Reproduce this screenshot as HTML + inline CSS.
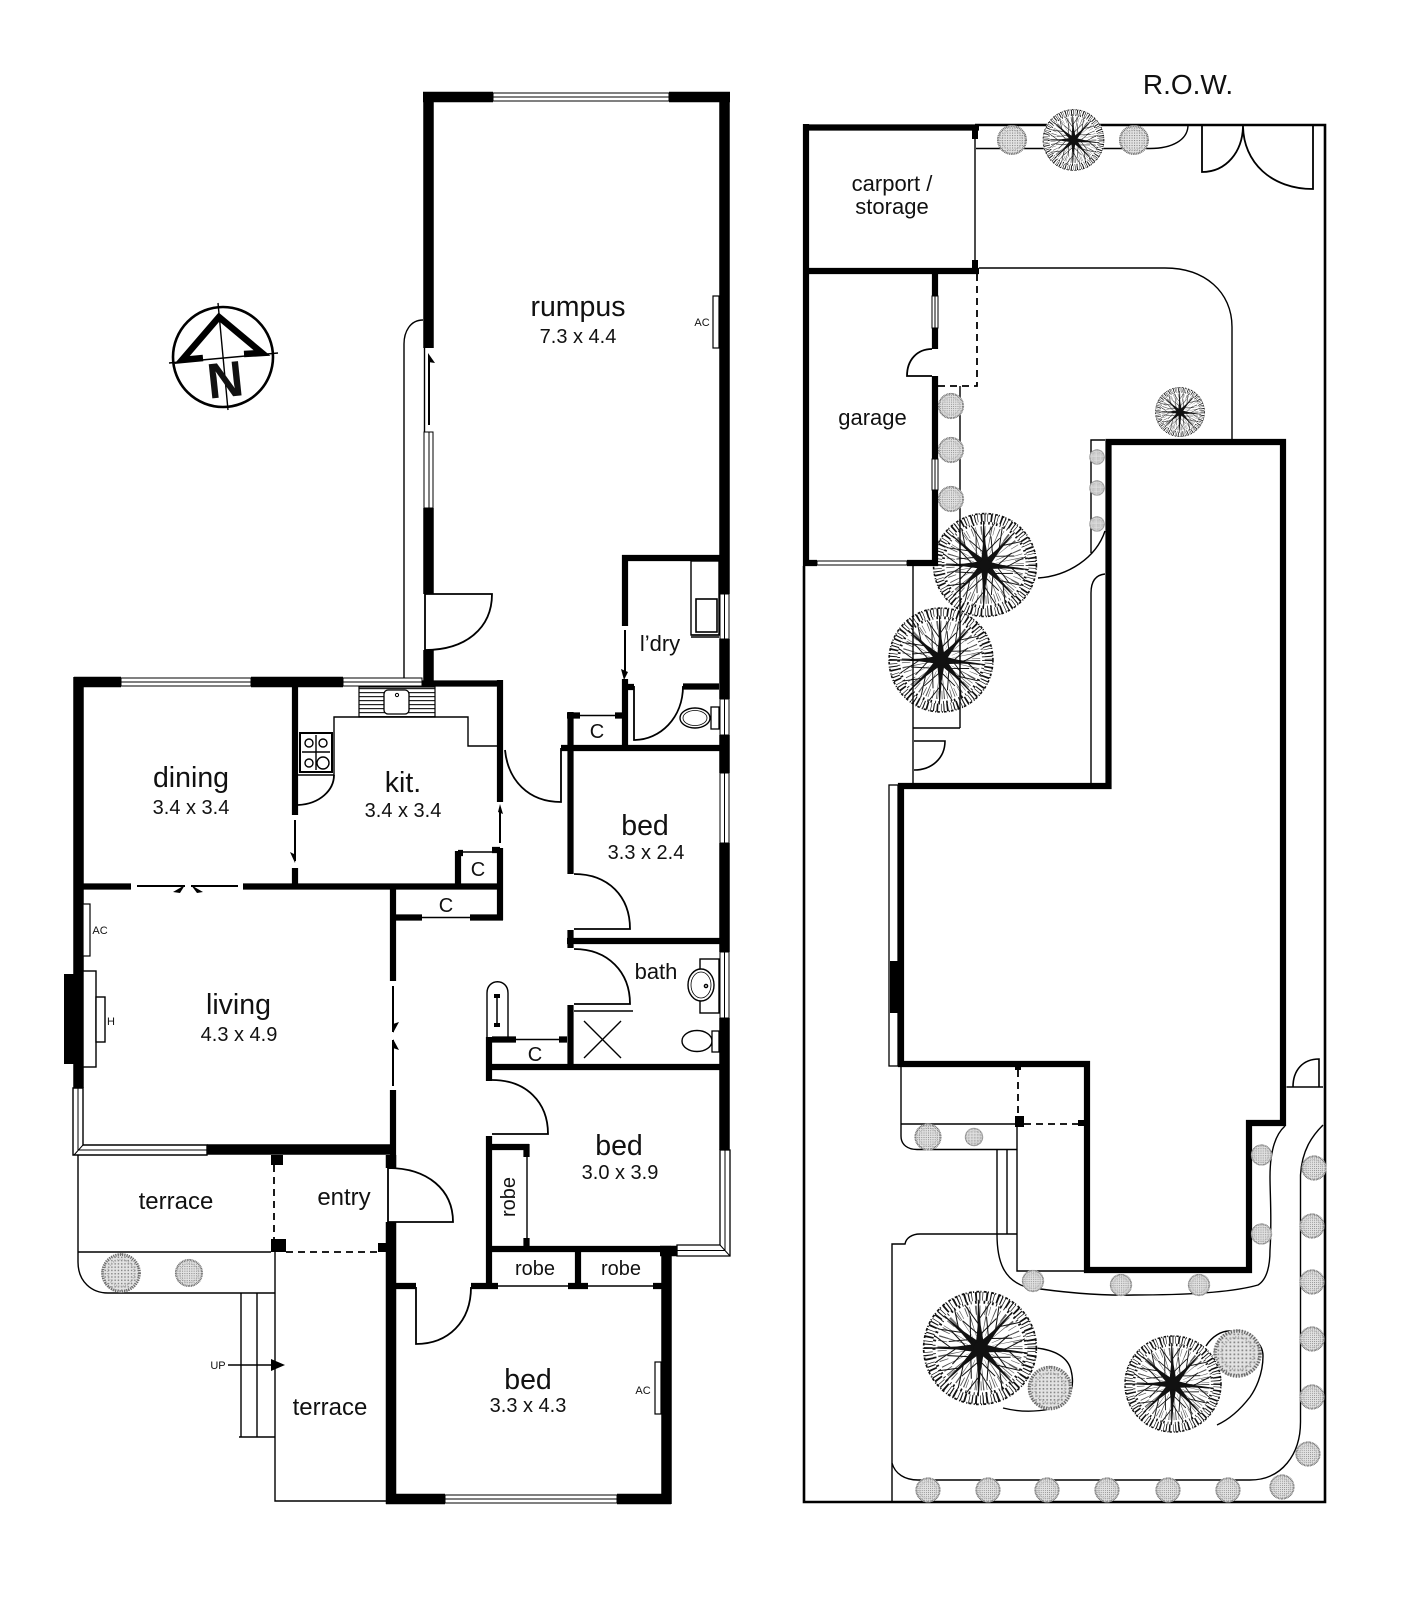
<!DOCTYPE html>
<html><head><meta charset="utf-8"><style>
html,body{margin:0;padding:0;background:#fff}
svg{display:block}
text{font-family:"Liberation Sans",Arial,sans-serif;fill:#111;text-anchor:middle}
.t28{font-size:28.5px}.t20{font-size:20px}.t24{font-size:24px}.t22{font-size:22px}.t11{font-size:11px}
.n{fill:none;stroke:#000;stroke-width:1.4}
.m{fill:none;stroke:#000;stroke-width:2}
.d{fill:none;stroke:#000;stroke-width:1.8;stroke-dasharray:7 5}
.b{fill:#000}
.win{fill:#fff;stroke:#000;stroke-width:1}
.wl{fill:none;stroke:#000}
</style></head><body>
<svg width="1411" height="1600" viewBox="0 0 1411 1600" xmlns="http://www.w3.org/2000/svg">
<defs>
<pattern id="hatch" width="4" height="4" patternUnits="userSpaceOnUse"><rect width="4" height="4" fill="#fff"/><rect width="4" height="1.2" fill="#222"/></pattern>
<pattern id="stip" width="1.6" height="1.6" patternUnits="userSpaceOnUse"><rect width="1.6" height="1.6" fill="#e2e2e2"/><rect width=".7" height=".7" fill="#888"/></pattern>
<g id="sh">
<circle r="9.6" fill="url(#stip)"/>
<circle r="9" fill="none" stroke="#666" stroke-width="1.4" stroke-dasharray=".5 .6"/>
<circle r="6.5" fill="none" stroke="#aaa" stroke-width=".9" stroke-dasharray=".4 .7"/>
</g>
<g id="spk">
<path d="M0,-4 L20,-1.3 L42,-.4 L42,.4 L20,1.3 L0,4Z" fill="#111"/>
<path d="M20,0 L38,-12 M25,0 L40,11 M12,1 L25,15 M12,-1 L24,-14" fill="none" stroke="#111" stroke-width=".9"/>
</g>
<g id="tr">
<circle r="50" fill="#fff"/>
<circle r="24" fill="none" stroke="#555" stroke-width="26" stroke-dasharray=".7 4.5 .5 6"/>
<circle r="33" fill="none" stroke="#555" stroke-width="8" stroke-dasharray=".7 3.2 .5 4"/>
<circle r="45" fill="none" stroke="#111" stroke-width="7.5" stroke-dasharray="1 1.8 .6 2.6 1.6 2"/>
<circle r="49" fill="none" stroke="#111" stroke-width="1.5" stroke-dasharray="2.5 1 1 2"/>
<circle r="40" fill="none" stroke="#111" stroke-width="2.6" stroke-dasharray=".8 3 1.5 2.2"/>
<use href="#spk" transform="rotate(6)"/><use href="#spk" transform="rotate(47)"/><use href="#spk" transform="rotate(92)"/><use href="#spk" transform="rotate(136)"/>
<use href="#spk" transform="rotate(180)"/><use href="#spk" transform="rotate(222)"/><use href="#spk" transform="rotate(268)"/><use href="#spk" transform="rotate(312)"/>
<circle r="5.5" fill="#111"/>
</g>
</defs>
<rect width="1411" height="1600" fill="#fff"/>

<!-- compass -->
<circle cx="223" cy="357" r="50" fill="none" stroke="#000" stroke-width="2.6"/>
<path d="M218,303 L228,410 M169,363 L278,353" class="n"/>
<path d="M203,358 L182,360 L219,317 L262,353 L244,354" fill="none" stroke="#000" stroke-width="6.5"/>
<text x="225" y="397" transform="rotate(-6 225 378)" style="font-size:50px;font-weight:700">N</text>

<!-- terrace / landscaping left -->
<path class="n" d="M423,320 C410,320 404,332 404,344 V679"/>
<path class="n" d="M78,1155 V1262 C78,1282 92,1293 108,1293 H275 M78,1252 H271 M275,1252 V1501 H386"/>
<path class="n" d="M241,1293 V1437 M257,1293 V1437 M239,1437 H275"/>
<path class="d" d="M274,1165 V1239 M286,1252 H378"/>
<use href="#sh" transform="translate(121,1273) scale(2.05)"/>
<use href="#sh" transform="translate(189,1273) scale(1.45)"/>

<!-- heavy walls -->
<g class="wl" stroke-width="10.5">
<path d="M423,97 H493 M669,97 H730 M428.5,92 V348 M428.5,508 V594 M428.5,650 V684 M724.5,92 V594 M724.5,639 V699 M724.5,735 V773 M724.5,843 V952 M724.5,1018 V1150"/>
<path d="M74,682 H121 M251,682 H343 M78.5,677 V1088"/>
<path d="M391,1155 V1168 M391,1222 V1504 M386,1499 H445 M617,1499 H671 M666.5,1246 V1504 M207,1149.5 H396"/>
<path d="M660,1251 H677"/>
</g>
<g class="wl" stroke-width="6.2">
<path d="M422,683.5 H503 M500,680 V802 M500,848 V920"/>
<path d="M295,687 V815 M295,868 V884 M83,886.5 H131 M243,886.5 H503"/>
<path d="M393,884 V981 M393,1090 V1167 M396,917.5 H422 M470,917.5 H503"/>
<path d="M458,851 V884 M458,853 H463 M492,850 H500"/>
<path d="M622,558 H722 M625,555 V626 M625,679 V748 M628,687 H634 M683,686.5 H719"/>
<path d="M570.5,712 V745 M567,715.5 H580 M615,715.5 H625"/>
<path d="M561,748 H722 M570.5,745 V874 M570.5,930 V948 M567,941 H722 M570.5,1005 V1070"/>
<path d="M486,1067 H722 M489,1037 V1081 M489,1136 V1287 M492,1147 H529 M526.5,1144 V1157 M526.5,1238 V1246"/>
<path d="M492,1039.5 H516 M559,1039.5 H567"/>
<path d="M487,1249 H671 M578,1252 V1285 M396,1286 H416 M471,1286 H498 M568,1286 H588 M653,1286 H662"/>
</g>
<!-- pillars, chimney -->
<rect class="b" x="271" y="1155" width="12" height="10"/>
<rect class="b" x="271" y="1239" width="15" height="13"/>
<rect class="b" x="378" y="1243" width="8" height="9"/>
<rect class="b" x="64" y="974" width="19" height="90"/>

<!-- windows -->
<g class="win">
<rect x="493" y="93" width="176" height="8"/><path d="M493,97 H669"/>
<rect x="424" y="432" width="9" height="76"/><path d="M429,432 V508"/>
<rect x="720" y="594" width="9" height="45"/><path d="M724.5,594 V639"/>
<rect x="720" y="699" width="9" height="36"/><path d="M724.5,699 V735"/>
<rect x="720" y="773" width="9" height="70"/><path d="M724.5,773 V843"/>
<rect x="720" y="952" width="9" height="66"/><path d="M724.5,952 V1018"/>
<path d="M720,1150 V1245 H677 V1256 H730 V1150Z" stroke-width="1.3"/><path d="M725,1150 V1250.5 H677 M720,1245 L730,1256" fill="none"/>
<rect x="121" y="678" width="130" height="8"/><path d="M121,682 H251"/>
<rect x="343" y="678" width="79" height="8"/><path d="M343,682 H422"/>
<path d="M73,1088 V1155 H207 V1145 H83 V1088Z" stroke-width="1.4"/><path d="M78,1088 V1150 H207 M83,1145 L74,1155" fill="none"/>
<rect x="445" y="1495" width="172" height="8"/><path d="M445,1499 H617"/>
</g>

<!-- thin partition lines -->
<path class="n" d="M580,715.5 H615 M463,852 H492 M422,917.5 H470 M516,1039.5 H559 M527,1157 V1238 M498,1286 H568 M588,1286 H653 M424.5,348 V432"/>
<path class="m" d="M137,886 H185 M191,886 H238 M393,986 V1032 M393,1040 V1086 M500,808 V843 M295,820 V861 M625,630 V676 M429,358 V425"/>
<g class="b">
<path d="M173,892 L185,885 L180,893Z M203,892 L191,885 L197,893Z"/>
<path d="M393,1033 L399,1022 L393,1024Z M393,1039 L399,1050 L393,1048Z"/>
<path d="M500,804 L503,814 L498,812Z M295,863 L290,852 L296,855Z M624,680 L621,669 L628,672Z M428,353 L435,363 L428,362Z"/>
</g>

<!-- doors -->
<g class="m" style="stroke-width:1.8">
<path d="M425,650 V594 H492 C492,628 466,650 425,650"/>
<path d="M634,686 V740 C660,740 683,718 683,686"/>
<path d="M505,750 C508,780 528,802 561,802 V748"/>
<path d="M574,874 C608,874 630,896 630,929 H574"/>
<path d="M574,949 C608,949 630,972 630,1004 H574"/>
<path d="M492,1080 C526,1080 548,1102 548,1134 H492"/>
<path d="M388,1168 V1222 H453 C453,1190 428,1168 388,1168"/>
<path d="M416,1287 V1344 C448,1344 471,1322 471,1287"/>
<path d="M334,775 C334,790 320,804 298,805"/>
</g>

<!-- kitchen -->
<path class="n" d="M298,775 H334 V717 H468 V746 H497"/>
<rect x="359" y="687" width="76" height="30" fill="url(#hatch)" stroke="#000" stroke-width="1.2"/>
<rect x="384" y="690" width="25" height="24" rx="4" fill="#fff" stroke="#000" stroke-width="1.3"/>
<circle cx="397" cy="695" r="1.6" fill="none" stroke="#000"/>
<rect x="300" y="733" width="32" height="39" fill="#fff" stroke="#000" stroke-width="2"/>
<path class="n" d="M316,735 V770 M302,752 H330"/>
<g class="n" fill="#fff"><circle cx="309" cy="743" r="4"/><circle cx="323" cy="743" r="4"/><circle cx="309" cy="763" r="4"/><circle cx="323" cy="763" r="6"/></g>

<!-- laundry / toilets -->
<rect x="691" y="561" width="28" height="74" fill="none" stroke="#000" stroke-width="1.4"/>
<rect x="696" y="599" width="21" height="33" fill="none" stroke="#000" stroke-width="1.6"/>
<path class="n" d="M691,635 H719 M691,637 H719"/>
<ellipse cx="695" cy="718" rx="15" ry="10" class="n"/><ellipse cx="695" cy="718" rx="12" ry="7.5" class="n" style="stroke-width:.8"/>
<rect x="711" y="707" width="8" height="22" fill="#fff" stroke="#000" stroke-width="1.3"/>
<rect x="700" y="959" width="19" height="54" fill="#fff" stroke="#000" stroke-width="1.4"/>
<ellipse cx="701" cy="985" rx="13" ry="16" fill="#fff" stroke="#000" stroke-width="1.4"/><ellipse cx="701" cy="985" rx="10" ry="13" class="n" style="stroke-width:.8"/><circle cx="706" cy="986" r="1.6" class="n"/>
<ellipse cx="697" cy="1041" rx="15" ry="10.5" fill="#fff" stroke="#000" stroke-width="1.4"/>
<rect x="712" y="1031" width="7" height="21" fill="#fff" stroke="#000" stroke-width="1.3"/>
<path class="n" d="M574,1011 H633 M584,1021 L621,1058 M621,1021 L584,1058"/>
<path class="n" d="M487,1037 V993 C487,978 508,978 508,993 V1037"/>
<path d="M497,996 V1025" stroke="#000" stroke-width="1.5"/><rect class="b" x="494" y="994" width="6" height="4"/><rect class="b" x="494" y="1023" width="6" height="4"/>

<!-- AC and fireplace -->
<rect x="713" y="296" width="6" height="52" fill="#fff" stroke="#000" stroke-width="1.2"/>
<rect x="83" y="904" width="7" height="52" fill="#fff" stroke="#000" stroke-width="1.2"/>
<rect x="83" y="971" width="13" height="96" fill="#fff" stroke="#000" stroke-width="1.4"/>
<rect x="96" y="997" width="9" height="45" fill="#fff" stroke="#000" stroke-width="1.4"/>
<rect x="655" y="1362" width="6" height="52" fill="#fff" stroke="#000" stroke-width="1.2"/>
<!-- UP arrow -->
<path d="M228,1365 H276" stroke="#000" stroke-width="1.6"/><path class="b" d="M271,1359 L285,1365 L271,1371Z"/>

<!-- left labels -->
<text class="t28" x="578" y="316">rumpus</text><text class="t20" x="578" y="343">7.3 x 4.4</text>
<text class="t22" x="660" y="651">l’dry</text>
<text class="t28" x="191" y="787">dining</text><text class="t20" x="191" y="814">3.4 x 3.4</text>
<text class="t28" x="403" y="792">kit.</text><text class="t20" x="403" y="817">3.4 x 3.4</text>
<text class="t28" x="645" y="835">bed</text><text class="t20" x="646" y="859">3.3 x 2.4</text>
<text class="t28" x="238.5" y="1014">living</text><text class="t20" x="239" y="1041">4.3 x 4.9</text>
<text class="t28" x="619" y="1155">bed</text><text class="t20" x="620" y="1179">3.0 x 3.9</text>
<text class="t28" x="528" y="1389">bed</text><text class="t20" x="528" y="1412">3.3 x 4.3</text>
<text class="t22" x="656" y="979">bath</text>
<text class="t24" x="176" y="1209">terrace</text><text class="t24" x="344" y="1205">entry</text><text class="t24" x="330" y="1415">terrace</text>
<text class="t20" x="597" y="738">C</text><text class="t20" x="478" y="876">C</text><text class="t20" x="446" y="912">C</text><text class="t20" x="535" y="1061">C</text>
<text class="t20" x="535" y="1275">robe</text><text class="t20" x="621" y="1275">robe</text>
<text class="t20" x="0" y="0" transform="translate(515,1197) rotate(-90)">robe</text>
<text class="t11" x="702" y="326">AC</text><text class="t11" x="100" y="934">AC</text><text class="t11" x="643" y="1394">AC</text><text class="t11" x="111" y="1025">H</text><text class="t11" x="218" y="1369">UP</text>

<!-- SITE PLAN -->
<!-- big trees first so lines and walls sit over them -->
<use href="#tr" transform="translate(941,660) scale(1.06)"/>
<use href="#tr" transform="translate(985,565) scale(1.05)"/>
<path class="m" style="stroke-width:2.6" d="M804,566 V1502 H1325 V125 H975"/>
<path class="n" d="M976,148.5 H1150 C1172,148.5 1188,140 1188,125"/>
<path class="n" d="M975,131 V268 M979,268 H1165 C1205,268 1232,292 1232,327 V439"/>
<path style="fill:none;stroke:#000;stroke-width:1.8" d="M1202,125 V172 C1226,172 1243,152 1243,125 C1243,163 1272,189 1313,189 V125"/>
<path class="n" d="M960,386 V728 M913,728 H960 M913,566 V783"/>
<path style="fill:none;stroke:#000;stroke-width:1.6" d="M914,741 H945 C945,758 932,770 914,770"/>
<path class="d" d="M977,274 V386 H938"/>
<path class="n" d="M1091,783 V593 C1091,582 1095,575 1105,574 M1091,553 V440 H1105 M1038,578 C1068,576 1096,558 1105,531"/>
<!-- carport & garage walls -->
<g class="wl" stroke-width="6.2">
<path d="M803,127.5 H979 M806,124 V566 M803,271 H979"/>
<path d="M935,274 V296 M935,328 V349 M935,376 V459 M935,490 V566 M803,563 H817 M907,563 H938"/>
<path d="M1108.5,442 H1283 V1123 H1249 V1270 H1087 V1064 H901 V786 H1108.5 Z"/>
</g>
<rect class="b" x="972" y="128" width="6" height="11"/><rect class="b" x="972" y="260" width="6" height="13"/>
<g class="win">
<rect x="932" y="296" width="6" height="32"/><path d="M935,296 V328"/>
<rect x="932" y="459" width="6" height="31"/><path d="M935,459 V490"/>
<rect x="817" y="561" width="90" height="4"/>
</g>
<path style="fill:none;stroke:#000;stroke-width:1.8" d="M932,349 C917,349 907,360 907,376 H932"/>
<rect x="889" y="785" width="9" height="281" fill="#fff" stroke="#000" stroke-width="1.3"/>
<rect class="b" x="890" y="961" width="9" height="52"/>
<!-- rear -->
<path class="n" d="M901,1067 V1136 C901,1145 908,1149.5 917,1149.5 H1017 M901,1124 H1015 M1017,1127 V1271 H1084"/>
<path class="d" d="M1018,1070 V1116 M1024,1124 H1082"/>
<rect class="b" x="1015" y="1064" width="6" height="6"/><rect class="b" x="1015" y="1116" width="9" height="11"/><rect class="b" x="1078" y="1120" width="6" height="6"/>
<path class="n" d="M997,1149.5 V1234 M1007,1149.5 V1234"/>
<path class="n" d="M1017,1234 H920 C912,1234 906,1238 905,1244 H892 V1502"/>
<path class="n" d="M892,1463 C895,1474 905,1480 918,1480 H1250 C1282,1480 1300.5,1454 1300.5,1422 V1175 C1302,1150 1312,1136 1323,1125"/>
<path class="n" d="M1286.5,1087 H1323"/>
<path style="fill:none;stroke:#000;stroke-width:1.6" d="M1293,1087 C1293,1070 1303,1059 1319,1059 V1087"/>
<path class="n" d="M997,1234 C997,1262 1004,1280 1026,1287 C1060,1292 1100,1296 1134,1295 C1180,1295 1230,1293 1258,1285 C1266,1280 1270,1268 1270,1250 C1272,1220 1270,1195 1270,1177 C1270,1150 1276,1134 1285,1126"/>
<path class="n" d="M1036,1348 C1056,1350 1068,1358 1071,1370 C1076,1390 1068,1404 1050,1409 C1030,1413 1015,1411 1003,1408"/>
<path class="n" d="M1206,1346 C1212,1336 1222,1331 1229,1331 C1248,1331 1263,1342 1263,1356 C1263,1375 1255,1390 1250,1397 C1240,1410 1228,1420 1217,1425"/>
<!-- shrubs -->
<use href="#sh" transform="translate(1012,140) scale(1.55)"/><use href="#sh" transform="translate(1134,140) scale(1.55)"/>
<use href="#tr" transform="translate(1073.5,140) scale(.62)"/>
<use href="#tr" transform="translate(1180,412) scale(.5)"/>
<use href="#sh" transform="translate(951,406) scale(1.35)"/><use href="#sh" transform="translate(951,450) scale(1.35)"/><use href="#sh" transform="translate(951,499) scale(1.35)"/>
<use href="#sh" transform="translate(1097,457) scale(.8)"/><use href="#sh" transform="translate(1097,488) scale(.8)"/><use href="#sh" transform="translate(1097,524) scale(.8)"/>
<use href="#sh" transform="translate(928,1137) scale(1.4)"/><use href="#sh" transform="translate(974,1137) scale(.95)"/>
<use href="#sh" transform="translate(1261.5,1155) scale(1.1)"/><use href="#sh" transform="translate(1261.5,1234) scale(1.1)"/>
<use href="#sh" transform="translate(1314,1168) scale(1.3)"/><use href="#sh" transform="translate(1312,1226) scale(1.3)"/><use href="#sh" transform="translate(1312,1282) scale(1.3)"/><use href="#sh" transform="translate(1312,1339) scale(1.3)"/><use href="#sh" transform="translate(1312,1397) scale(1.3)"/><use href="#sh" transform="translate(1308,1454) scale(1.3)"/>
<use href="#sh" transform="translate(1282,1487) scale(1.3)"/><use href="#sh" transform="translate(1228,1490) scale(1.3)"/><use href="#sh" transform="translate(1168,1490) scale(1.3)"/><use href="#sh" transform="translate(1107,1490) scale(1.3)"/><use href="#sh" transform="translate(1047,1490) scale(1.3)"/><use href="#sh" transform="translate(988,1490) scale(1.3)"/><use href="#sh" transform="translate(928,1490) scale(1.3)"/>
<use href="#sh" transform="translate(1033,1281) scale(1.15)"/><use href="#sh" transform="translate(1121,1285) scale(1.15)"/><use href="#sh" transform="translate(1199,1285) scale(1.15)"/>
<use href="#sh" transform="translate(1050,1388) scale(2.3)"/><use href="#sh" transform="translate(1237.5,1353.5) scale(2.5)"/>
<use href="#tr" transform="translate(980,1348) scale(1.15)"/>
<use href="#tr" transform="translate(1173,1384) scale(.98)"/>
<!-- site labels -->
<text class="t28" x="1188" y="94" style="font-size:28px">R.O.W.</text>
<text class="t22" x="892" y="191">carport /</text><text class="t22" x="892" y="214">storage</text>
<text class="t22" x="872.5" y="425">garage</text>
</svg>
</body></html>
